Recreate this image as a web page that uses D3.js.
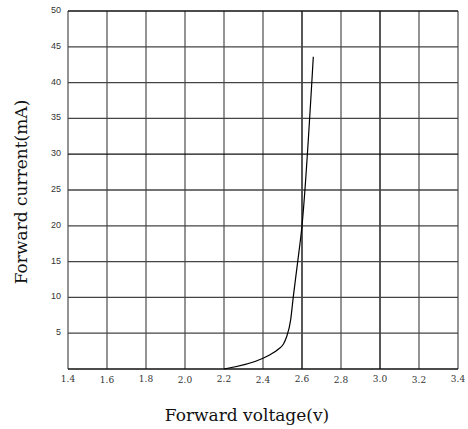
<!DOCTYPE html>
<html>
<head>
<meta charset="utf-8">
<script src="https://cdn.jsdelivr.net/npm/d3@7"></script>
<style>
  body { margin: 0; background: #fff; overflow: hidden; }
  svg { display: block; }
</style>
</head>
<body>
<div id="graph"></div>
<script>
// Data
const xTicks = [1.4, 1.6, 1.8, 2.0, 2.2, 2.4, 2.6, 2.8, 3.0, 3.2, 3.4];
const yTicks = [5, 10, 15, 20, 25, 30, 35, 40, 45, 50];
const voltage = [2.2, 2.4, 2.436, 2.48, 2.505, 2.521, 2.542, 2.555, 2.578, 2.6, 2.658];
const current = [0, 1.5, 2.0, 2.8, 3.5, 4.5, 6.9, 10, 15, 20, 43.6];

const width = 468;
const height = 429;
const margin = {top: 11, left: 68};
const innerWidth = 458 - margin.left;
const innerHeight = 369 - margin.top;

const svg = d3.select("#graph")
    .append("svg")
    .attr("width", width)
    .attr("height", height);

const g = svg.append("g")
    .attr("transform", `translate(${margin.left},${margin.top})`);

const xScale = d3.scaleLinear().domain([1.4, 3.4]).range([0, innerWidth]);
const yScale = d3.scaleLinear().domain([0, 50]).range([innerHeight, 0]);

// Grid: vertical lines
g.selectAll(".vgrid")
    .data(xTicks)
    .enter().append("line")
    .attr("x1", d => xScale(d))
    .attr("x2", d => xScale(d))
    .attr("y1", 0)
    .attr("y2", innerHeight)
    .attr("stroke", d => (d === 2.6 || d === 3.0) ? "#111" : "#666")
    .attr("stroke-width", 1.4);

// Grid: horizontal lines
g.selectAll(".hgrid")
    .data([0].concat(yTicks))
    .enter().append("line")
    .attr("x1", 0)
    .attr("x2", innerWidth)
    .attr("y1", d => yScale(d))
    .attr("y2", d => yScale(d))
    .attr("stroke", d => (d === 30 || d === 0 || d === 50) ? "#111" : "#444")
    .attr("stroke-width", 1.3);

// Tick labels
g.selectAll(".xlab")
    .data(xTicks)
    .enter().append("text")
    .attr("x", d => xScale(d))
    .attr("y", (d, i) => innerHeight + (i % 2 ? 14 : 13))
    .attr("text-anchor", "middle")
    .attr("font-family", "DejaVu Serif")
    .attr("font-size", "9px")
    .attr("fill", "#333")
    .text(d => d.toFixed(1));

g.selectAll(".ylab")
    .data(yTicks)
    .enter().append("text")
    .attr("x", -7)
    .attr("y", d => yScale(d) + 2)
    .attr("text-anchor", "end")
    .attr("font-family", "Liberation Sans")
    .attr("font-size", "9px")
    .attr("fill", "#333")
    .text(d => d);

// Curve
const line = d3.line()
    .x(d => xScale(d[0]))
    .y(d => yScale(d[1]))
    .curve(d3.curveMonotoneX);

g.append("path")
    .datum(d3.zip(voltage, current))
    .attr("fill", "none")
    .attr("stroke", "#000")
    .attr("stroke-width", 1.2)
    .attr("d", line);

// Axis titles
svg.append("text")
    .attr("x", 247)
    .attr("y", 421)
    .attr("text-anchor", "middle")
    .attr("font-family", "DejaVu Serif")
    .attr("font-size", "17px")
    .attr("fill", "#111")
    .text("Forward voltage(v)");

svg.append("text")
    .attr("transform", "rotate(-90)")
    .attr("x", -192)
    .attr("y", 27)
    .attr("text-anchor", "middle")
    .attr("font-family", "DejaVu Serif")
    .attr("font-size", "17px")
    .attr("fill", "#111")
    .text("Forward current(mA)");
</script>
</body>
</html>
